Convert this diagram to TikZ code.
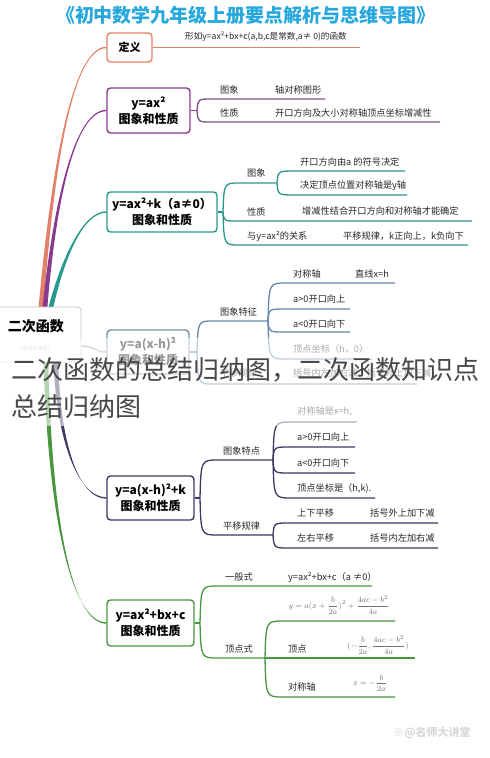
\documentclass[tikz,border=0pt]{standalone}
\usepackage{fontspec}
\setmainfont{Noto Sans CJK SC}
\usetikzlibrary{calc}
\definecolor{cTitle}{RGB}{38,168,222}
\definecolor{cDef}{RGB}{226,128,104}
\definecolor{cPur}{RGB}{136,58,142}
\definecolor{cPurL}{RGB}{125,78,130}
\definecolor{cTeal}{RGB}{40,152,140}
\definecolor{cSteelB}{RGB}{120,145,172}
\definecolor{cSteel}{RGB}{100,135,170}
\definecolor{cNavy}{RGB}{58,58,100}
\definecolor{cGreen}{RGB}{72,150,62}
\definecolor{cTxt}{RGB}{40,40,40}
\newcommand\br[6]{\draw[lnk,#1] (#2,#3) .. controls (#2+1,#4) .. (#2+#6,#4) -- (#5,#4);}
\newcommand\trunk[5]{\fill[#1] ($(#2)+(-2.4,0)$) .. controls ($(#3)+(-1.6,0)$) and ($(#4)+(0,-0.7)$) .. ($(#5)+(0,-0.7)$) -- ($(#5)+(0,0.7)$) .. controls ($(#4)+(0,0.7)$) and ($(#3)+(1.6,0)$) .. ($(#2)+(2.4,0)$) -- cycle;}
\begin{document}
\begin{tikzpicture}[x=1pt,y=-1pt,
  bx/.style={draw, rounded corners=3.5pt, line width=1.4pt, fill=white, align=center, inner sep=0pt, font=\bfseries\fontsize{12}{16}\selectfont, text=black},
  lab/.style={anchor=west, inner sep=0pt, font=\fontsize{9.2}{11}\selectfont, text=cTxt},
  fml/.style={inner sep=0pt, text=black!55, font=\fontsize{8.5}{10}\selectfont},
  lnk/.style={line width=1.3pt}]
\useasboundingbox (0,0) rectangle (490,758);
\fill[white] (0,0) rectangle (490,758);

% title
\node[font=\bfseries\fontsize{19}{20}\selectfont, text=cTitle] (title) at (246,15) {《初中数学九年级上册要点解析与思维导图》};

% boxes
\node[bx, draw=cDef, minimum width=45, minimum height=29, font=\bfseries\fontsize{11}{12}\selectfont] (def) at (129.5,47.5) {定义};
\node[bx, draw=cPur, minimum width=83, minimum height=45] (b1) at (148.5,110.5) {y=ax²\\图象和性质};
\node[bx, draw=cTeal, minimum width=110, minimum height=40] (b2) at (162,212) {y=ax²+k（a≠0）\\图象和性质};
\node[bx, draw=cSteelB, minimum width=82, minimum height=44] (b3) at (148,352) {y=a(x-h)²\\图象和性质};
\node[bx, draw=cNavy, minimum width=87, minimum height=44] (b4) at (150.5,498) {y=a(x-h)²+k\\图象和性质};
\node[bx, draw=cGreen, minimum width=87, minimum height=46] (b5) at (150.5,623) {y=ax²+bx+c\\图象和性质};

% trunks
\coordinate (s1) at (41,307);
\coordinate (s2) at (45,307);
\coordinate (s3) at (51,307);
\coordinate (s5) at (56,362);
\coordinate (s6) at (46,362);
\trunk{cDef}{s1}{50,200}{68,47.5}{def.west}
\trunk{cPur}{s2}{52,230}{70,110.5}{b1.west}
\trunk{cTeal}{s3}{62,262}{82,212}{b2.west}
\trunk{cNavy}{s5}{58,440}{78,498}{b4.west}
\trunk{cGreen}{s6}{50,520}{72,623}{b5.west}

% central node
\node[draw=gray!45, line width=0.8pt, rounded corners=3pt, fill=white, minimum width=88, minimum height=55, inner sep=0] (c) at (37,334.5) {};
\node[font=\bfseries\fontsize{14}{15}\selectfont, inner sep=0] (ct) at (36,326) {二次函数};
\node[font=\fontsize{5}{6}\selectfont, text=gray!60, inner sep=0] (cw) at (35,349) {（名师大讲堂）};
\draw[line width=1.6pt, cSteelB!70] (c.east |- 0,346) .. controls (95,346) and (95,352) .. (b3.west);

% definition branch
\coordinate (dend) at (360,47.5);
\draw[lnk,cDef] (def.east) -- (dend);
\node[inner sep=0, font=\fontsize{8.6}{10}\selectfont, text=cTxt] (dtxt) at (266,37) {形如y=ax²+bx+c(a,b,c是常数,a≠ 0)的函数};

% b1 branches
\coordinate (j1) at (197,110.5);
\draw[lnk,cPurL] (b1.east) -- (j1);
\br{cPurL}{197}{110.5}{99}{325}{14}
\br{cPurL}{197}{110.5}{122}{440}{14}
\node[lab] at (220,90) {图象};
\node[lab] at (275,90) {轴对称图形};
\node[lab] at (220,113) {性质};
\node[lab] at (275,113) {开口方向及大小对称轴顶点坐标增减性};

% b2 branches
\coordinate (j2) at (223,212);
\draw[lnk,cTeal] (b2.east) -- (j2);
\br{cTeal}{223}{212}{183}{277}{16}
\br{cTeal}{277}{183}{171}{405}{18}
\br{cTeal}{277}{183}{195}{407}{18}
\br{cTeal}{223}{212}{221}{472}{14}
\br{cTeal}{223}{212}{245}{468}{16}
\node[lab] at (247,173) {图象};
\node[lab] at (300,162) {开口方向由a 的符号决定};
\node[lab] at (300,186) {决定顶点位置对称轴是y轴};
\node[lab] at (247,212) {性质};
\node[lab] at (302,211) {增减性结合开口方向和对称轴才能确定};
\node[lab] at (247,236) {与y=ax²的关系};
\node[lab] at (343,236) {平移规律，k正向上，k负向下};

% b3 branches
\coordinate (j3) at (197,352);
\draw[lnk,cSteel] (b3.east) -- (j3);
\br{cSteel}{197}{352}{321}{268}{16}
\br{cSteel}{268}{321}{283}{395}{18}
\br{cSteel}{268}{321}{309}{350}{16}
\br{cSteel}{268}{321}{332}{350}{16}
\br{cSteel}{268}{321}{359}{372}{18}
\br{cSteel}{197}{352}{384}{417}{16}
\node[lab] at (220,312) {图象特征};
\node[lab] at (293,274) {对称轴};
\node[lab] at (355,274) {直线x=h};
\node[lab] at (293,299) {a>0开口向上};
\node[lab] at (293,324) {a<0开口向下};
\node[lab] at (293,349) {顶点坐标（h，0）};
\node[lab] at (220,373) {平移规律};
\node[lab] at (293,373) {括号内左加右减，括号外上加下减};

% b4 branches
\coordinate (j4) at (200,498);
\draw[lnk,cNavy] (b4.east) -- (j4);
\br{cNavy}{200}{498}{460}{273}{18}
\br{cNavy}{273}{460}{422}{357}{18}
\br{cNavy}{273}{460}{447}{355}{16}
\br{cNavy}{273}{460}{473}{355}{16}
\br{cNavy}{273}{460}{498}{375}{18}
\br{cNavy}{200}{498}{535}{273}{18}
\br{cNavy}{273}{535}{523}{438}{16}
\br{cNavy}{273}{535}{548}{438}{16}
\node[lab] at (223,451) {图象特点};
\node[lab] at (297,412) {对称轴是x=h,};
\node[lab] at (297,437) {a>0开口向上};
\node[lab] at (297,463) {a<0开口向下};
\node[lab] at (297,488) {顶点坐标是（h,k).};
\node[lab] at (223,526) {平移规律};
\node[lab] at (297,513) {上下平移};
\node[lab] at (370,513) {括号外上加下减};
\node[lab] at (297,538) {左右平移};
\node[lab] at (370,538) {括号内左加右减};

% b5 branches
\coordinate (j5) at (200,623);
\draw[lnk,cGreen] (b5.east) -- (j5);
\br{cGreen}{200}{623}{586}{372}{18}
\br{cGreen}{200}{623}{658}{265}{18}
\br{cGreen}{265}{658}{621}{395}{18}
\br{cGreen}{265}{658}{658}{415}{10}
\br{cGreen}{265}{658}{697}{395}{18}
\node[lab] at (225,577) {一般式};
\node[lab] at (288,577) {y=ax²+bx+c（a ≠0）};
\node[lab] at (225,649) {顶点式};
\node[fml] at (339,605) {$\displaystyle y=a(x+\frac{b}{2a})^2+\frac{4ac-b^2}{4a}$};
\node[lab] at (288,649) {顶点};
\node[fml] at (378,645) {$\displaystyle (-\frac{b}{2a},\frac{4ac-b^2}{4a})$};
\node[lab] at (288,687) {对称轴};
\node[fml] at (370,683) {$\displaystyle x=-\frac{b}{2a}$};

% watermark
\node[font=\bfseries\fontsize{11}{12}\selectfont, text=gray!30, inner sep=0] (wm) at (432,733) {※@名师大讲堂};

% overlay caption
\fill[white, opacity=0.6] (0,338) rectangle (490,426);
\node[anchor=west, inner sep=0, font=\fontsize{26}{30}\selectfont, text=black!72] (ov1) at (11,370) {二次函数的总结归纳图，二次函数知识点};
\node[anchor=west, inner sep=0, font=\fontsize{26}{30}\selectfont, text=black!72] (ov2) at (11,407) {总结归纳图};
\end{tikzpicture}
\end{document}
